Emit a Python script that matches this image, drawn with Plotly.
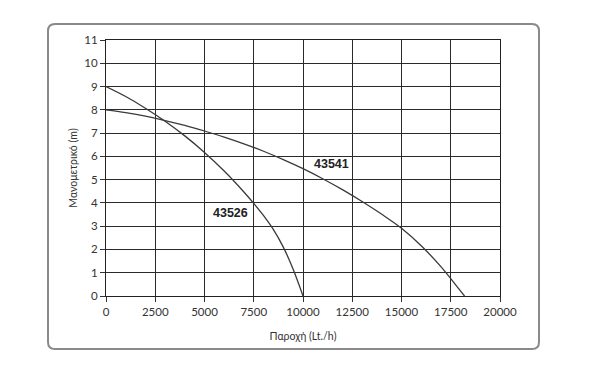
import plotly.graph_objects as go

# Data
flow_43526 = [0, 1000, 2000, 3000, 4000, 5000, 6000, 7000, 7500, 8000, 8500, 9000, 9500, 10000]
head_43526 = [9.0, 8.57, 8.07, 7.51, 6.88, 6.17, 5.37, 4.47, 3.98, 3.45, 2.85, 2.10, 1.15, 0.0]

flow_43541 = [0, 1000, 2000, 3000, 4000, 5000, 6000, 7000, 8000, 9000, 10000,
              11000, 12000, 13000, 14000, 15000, 16000, 17000, 18000, 18200]
head_43541 = [8.0, 7.88, 7.73, 7.54, 7.33, 7.09, 6.83, 6.54, 6.22, 5.86, 5.47,
              5.04, 4.57, 4.06, 3.51, 2.91, 2.16, 1.26, 0.21, 0.0]

x_ticks = [0, 2500, 5000, 7500, 10000, 12500, 15000, 17500, 20000]
y_ticks = list(range(0, 12))

labels = ["43526", "43541"]
label_x = [6310, 11450]
label_y = [3.58, 5.68]

W, H = 590, 372
L, R, T, B = 106, 90, 40, 76
PW, PH = W - L - R, H - T - B

def px(x):
    return (x - L) / PW

def py(y):
    return (H - B - y) / PH

line_col = "#3a3a3a"

fig = go.Figure()
fig.add_trace(go.Scatter(x=flow_43526, y=head_43526, mode="lines",
                         line=dict(color=line_col, width=1.3, shape="spline", smoothing=1.0),
                         showlegend=False, hoverinfo="skip"))
fig.add_trace(go.Scatter(x=flow_43541, y=head_43541, mode="lines",
                         line=dict(color=line_col, width=1.3, shape="spline", smoothing=1.0),
                         showlegend=False, hoverinfo="skip"))

for t, xx, yy in zip(labels, label_x, label_y):
    fig.add_annotation(x=xx, y=yy, text=f"<b>{t}</b>", showarrow=False,
                       font=dict(family="Liberation Sans, Arial, sans-serif", size=12.5, color="#222"))

# rounded frame
x0, x1, y0, y1, r = px(48), px(539), py(24), py(349), 7
rx, ry = r / PW, r / PH
path = (f"M {x0+rx},{y0} L {x1-rx},{y0} Q {x1},{y0} {x1},{y0-ry} "
        f"L {x1},{y1+ry} Q {x1},{y1} {x1-rx},{y1} "
        f"L {x0+rx},{y1} Q {x0},{y1} {x0},{y1+ry} "
        f"L {x0},{y0-ry} Q {x0},{y0} {x0+rx},{y0} Z")
fig.add_shape(type="path", path=path, xref="paper", yref="paper",
              line=dict(color="#8a8a8a", width=2), layer="below")

tickfont = dict(family="Lato, Open Sans, sans-serif", size=11.5, color="#333")
titlefont = dict(family="Lato, Open Sans, sans-serif", size=10.5, color="#333")
fig.update_xaxes(range=[0, 20000], tickvals=x_ticks, ticktext=[str(v) for v in x_ticks],
                 showgrid=True, gridcolor="#2a2a2a", gridwidth=1,
                 showline=True, linecolor="#222", linewidth=1.2, mirror=True,
                 ticks="outside", ticklen=5, tickcolor="#333", tickfont=tickfont,
                 zeroline=False,
                 title=dict(text="Παροχή (Lt./h)", font=titlefont, standoff=15))
fig.update_yaxes(range=[0, 11], tickvals=y_ticks,
                 showgrid=True, gridcolor="#2a2a2a", gridwidth=1,
                 showline=True, linecolor="#222", linewidth=1.2, mirror=True,
                 ticks="outside", ticklen=5, tickcolor="#333", tickfont=tickfont,
                 zeroline=False,
                 title=dict(text="Μανομετρικό (m)", font=titlefont, standoff=4))

fig.update_layout(width=W, height=H, margin=dict(l=L, r=R, t=T, b=B),
                  plot_bgcolor="white", paper_bgcolor="white", showlegend=False)

fig.write_html("out.html")
